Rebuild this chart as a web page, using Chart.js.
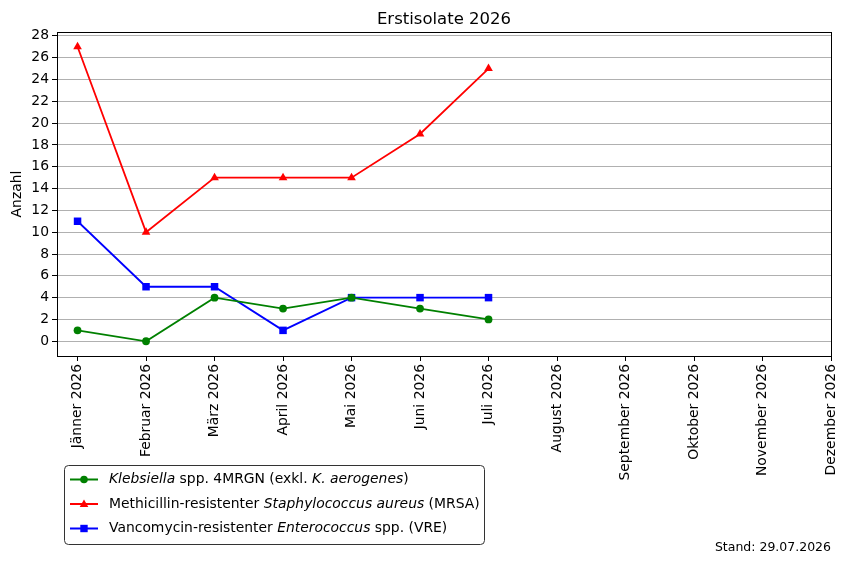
<!DOCTYPE html>
<html><head><meta charset="utf-8">
<script src="https://cdn.jsdelivr.net/npm/chart.js@4/dist/chart.umd.min.js"></script>
<style>html,body{margin:0;padding:0;background:#fff}#wrap{width:849px;height:564px}</style>
</head><body><div id="wrap"><canvas id="c" width="849" height="564"></canvas></div>
<script>
const months = ["Jänner 2026","Februar 2026","März 2026","April 2026","Mai 2026","Juni 2026","Juli 2026","August 2026","September 2026","Oktober 2026","November 2026","Dezember 2026"];
const klebsiella = [1,0,4,3,4,3,2];
const mrsa = [27,10,15,15,15,19,25];
const vre = [11,5,5,1,4,4,4];
const yTicks = [0,2,4,6,8,10,12,14,16,18,20,22,24,26,28];
const titleText = "Erstisolate 2026";
const yLabel = "Anzahl";
const standText = "Stand: 29.07.2026";
const legendItems = [
  {color:"green", style:"circle", parts:[["Klebsiella",true],[" spp. 4MRGN (exkl. ",false],["K. aerogenes",true],[")",false]]},
  {color:"red", style:"triangle", parts:[["Methicillin-resistenter ",false],["Staphylococcus aureus",true],[" (MRSA)",false]]},
  {color:"blue", style:"rect", parts:[["Vancomycin-resistenter ",false],["Enterococcus",true],[" spp. (VRE)",false]]}
];
const FONT = "'DejaVu Sans', sans-serif";
function pts(arr){return arr.map((v,i)=>({x:i,y:v}));}

const extras = {
  id:'extras',
  afterDraw(chart){
    const ctx = chart.ctx, a = chart.chartArea;
    ctx.save();
    ctx.strokeStyle = '#000'; ctx.lineWidth = 1;
    ctx.strokeRect(Math.round(a.left)+0.5, Math.round(a.top)+0.5, Math.round(a.right-a.left), Math.round(a.bottom-a.top));
    ctx.fillStyle = '#000';
    ctx.font = "16.5px " + FONT;
    ctx.textAlign = 'center'; ctx.textBaseline = 'alphabetic';
    ctx.fillText(titleText, (a.left+a.right)/2, 24);
    ctx.save();
    ctx.translate(21, (a.top+a.bottom)/2);
    ctx.rotate(-Math.PI/2);
    ctx.font = "13.9px " + FONT;
    ctx.textAlign = 'center';
    ctx.fillText(yLabel, 0, 0);
    ctx.restore();
    ctx.font = "12.5px " + FONT;
    ctx.textAlign = 'right';
    ctx.fillText(standText, a.right, 551);
    const lx = 64.5, ly = 465.5, lw = 420, lh = 79, r = 4;
    ctx.beginPath();
    ctx.moveTo(lx+r, ly); ctx.lineTo(lx+lw-r, ly); ctx.arcTo(lx+lw, ly, lx+lw, ly+r, r);
    ctx.lineTo(lx+lw, ly+lh-r); ctx.arcTo(lx+lw, ly+lh, lx+lw-r, ly+lh, r);
    ctx.lineTo(lx+r, ly+lh); ctx.arcTo(lx, ly+lh, lx, ly+lh-r, r);
    ctx.lineTo(lx, ly+r); ctx.arcTo(lx, ly, lx+r, ly, r);
    ctx.closePath();
    ctx.fillStyle = 'rgba(255,255,255,0.8)'; ctx.fill();
    ctx.strokeStyle = '#333'; ctx.lineWidth = 1; ctx.stroke();
    legendItems.forEach((it, i) => {
      const y = 479.5 + i*24.5;
      ctx.strokeStyle = it.color; ctx.lineWidth = 2;
      ctx.beginPath(); ctx.moveTo(70, y); ctx.lineTo(98, y); ctx.stroke();
      ctx.fillStyle = it.color;
      ctx.beginPath();
      if (it.style === 'circle') { ctx.arc(84, y, 3.8, 0, Math.PI*2); }
      else if (it.style === 'triangle') { ctx.moveTo(84, y-4.5); ctx.lineTo(88.3, y+3); ctx.lineTo(79.7, y+3); ctx.closePath(); }
      else { ctx.rect(80.3, y-3.7, 7.4, 7.4); }
      ctx.fill();
      let x = 109;
      ctx.fillStyle = '#000'; ctx.textAlign = 'left'; ctx.textBaseline = 'middle';
      it.parts.forEach(([t, ital]) => {
        ctx.font = (ital ? "italic " : "") + "13.9px " + FONT;
        ctx.fillText(t, x, y);
        x += ctx.measureText(t).width;
      });
    });
    ctx.restore();
  }
};

const ds = (label, data, color, style, radius) => ({
  label, data: pts(data), borderColor: color, backgroundColor: color,
  pointBackgroundColor: color, pointBorderColor: color,
  pointStyle: style, pointRadius: radius, pointBorderWidth: 0,
  borderWidth: 1.8, tension: 0, fill: false
});

new Chart(document.getElementById('c'), {
  type: 'line',
  data: { datasets: [
    ds('Klebsiella spp. 4MRGN (exkl. K. aerogenes)', klebsiella, 'green', 'circle', 3.9),
    ds('Methicillin-resistenter Staphylococcus aureus (MRSA)', mrsa, 'red', 'triangle', 5),
    ds('Vancomycin-resistenter Enterococcus spp. (VRE)', vre, 'blue', 'rect', 5.3)
  ]},
  options: {
    responsive: false, animation: false, devicePixelRatio: 1,
    layout: { padding: { top: 32, right: 18, left: 0, bottom: 0 } },
    plugins: { legend: { display: false }, title: { display: false }, tooltip: { enabled: false } },
    scales: {
      x: {
        type: 'linear', min: -0.3, max: 11,
        afterBuildTicks(s){ s.ticks = months.map((m,i)=>({value:i})); },
        afterFit(s){ s.height = 564 - 356; s.paddingLeft = 0; s.paddingRight = 0; },
        grid: { drawOnChartArea: false, drawTicks: true, tickLength: 5, color: '#000', tickColor: '#000', lineWidth: 1 },
        border: { display: false },
        ticks: { autoSkip: false, maxRotation: 90, minRotation: 90, padding: 3, color: '#000',
          font: { family: FONT, size: 13.9 }, callback: (v) => months[v] }
      },
      y: {
        type: 'linear', min: -1.35, max: 28.35,
        afterBuildTicks(s){ s.ticks = yTicks.map(v=>({value:v})); },
        afterFit(s){ s.width = 57; s.paddingTop = 0; s.paddingBottom = 0; },
        grid: { drawOnChartArea: true, drawTicks: true, tickLength: 5, color: '#b0b0b0', tickColor: '#000', lineWidth: 1 },
        border: { display: false },
        ticks: { padding: 3, color: '#000', font: { family: FONT, size: 13.9 } }
      }
    }
  },
  plugins: [extras]
});
</script></body></html>
